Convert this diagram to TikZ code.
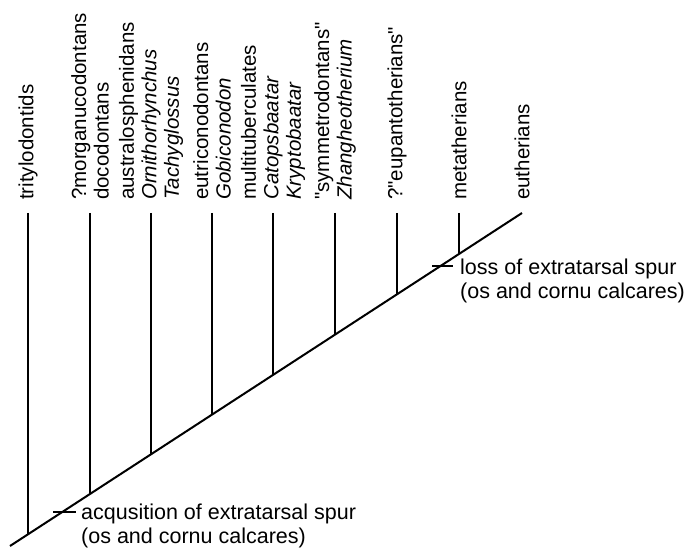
\documentclass[tikz,border=0pt]{standalone}
\usepackage{fontspec}
\setmainfont{Liberation Sans}
\font\quotefont="Liberation Sans" at 20.5pt
\newcommand\dq{{\quotefont"}}
\begin{document}
\begin{tikzpicture}[x=1pt,y=1pt,
  branch/.style={line width=2pt},
  taxon/.style={rotate=90,anchor=west,inner sep=0pt,align=left,
    font=\fontsize{20.5}{22.5}\selectfont},
  note/.style={anchor=base west,inner sep=0pt,align=left,
    font=\fontsize{21.5}{23.5}\selectfont}]
\useasboundingbox (0,0) rectangle (685,547);
% main diagonal
\coordinate (root) at (10,1);
\coordinate (tip) at (522,334);
\draw[branch] (root) -- (tip);
% branch tops and bases
\coordinate (t1) at (28,334);  \coordinate (b1) at (28,12.7);
\coordinate (t2) at (90,334);  \coordinate (b2) at (90,53.0);
\coordinate (t3) at (151,334); \coordinate (b3) at (151,92.7);
\coordinate (t4) at (212,334); \coordinate (b4) at (212,132.4);
\coordinate (t5) at (273,334); \coordinate (b5) at (273,172.1);
\coordinate (t6) at (335,334); \coordinate (b6) at (335,212.4);
\coordinate (t7) at (397,334); \coordinate (b7) at (397,252.7);
\coordinate (t8) at (459,334); \coordinate (b8) at (459,293.0);
\foreach \i in {1,...,8} \draw[branch] (t\i) -- (b\i);
% labels
\node[taxon] (n1) at (28,347) {tritylodontids};
\node[taxon] (n2) at (90,347) {?morganucodontans\\docodontans};
\node[taxon] (n3) at (151,347) {australosphenidans\\\textit{Ornithorhynchus}\\\textit{Tachyglossus}};
\node[taxon] (n4) at (212,347) {eutriconodontans\\\textit{Gobiconodon}};
\node[taxon] (n5) at (273,347) {multituberculates\\\textit{Catopsbaatar}\\\textit{Kryptobaatar}};
\node[taxon] (n6) at (335,347) {\dq symmetrodontans\dq\\\textit{Zhangheotherium}};
\node[taxon] (n7) at (397,347) {?\dq eupantotherians\dq};
\node[taxon] (n8) at (459,347) {metatherians};
\node[taxon] (n9) at (522,347) {eutherians};
% character changes
\coordinate (k1a) at (53,35); \coordinate (k1b) at (76,35);
\draw[branch] (k1a) -- (k1b);
\node[note] (c1) at (81,4) {acqusition of extratarsal spur\\(os and cornu calcares)};
\coordinate (k2a) at (432,281); \coordinate (k2b) at (453,281);
\draw[branch] (k2a) -- (k2b);
\node[note] (c2) at (460,249) {loss of extratarsal spur\\(os and cornu calcares)};
\end{tikzpicture}
\end{document}
